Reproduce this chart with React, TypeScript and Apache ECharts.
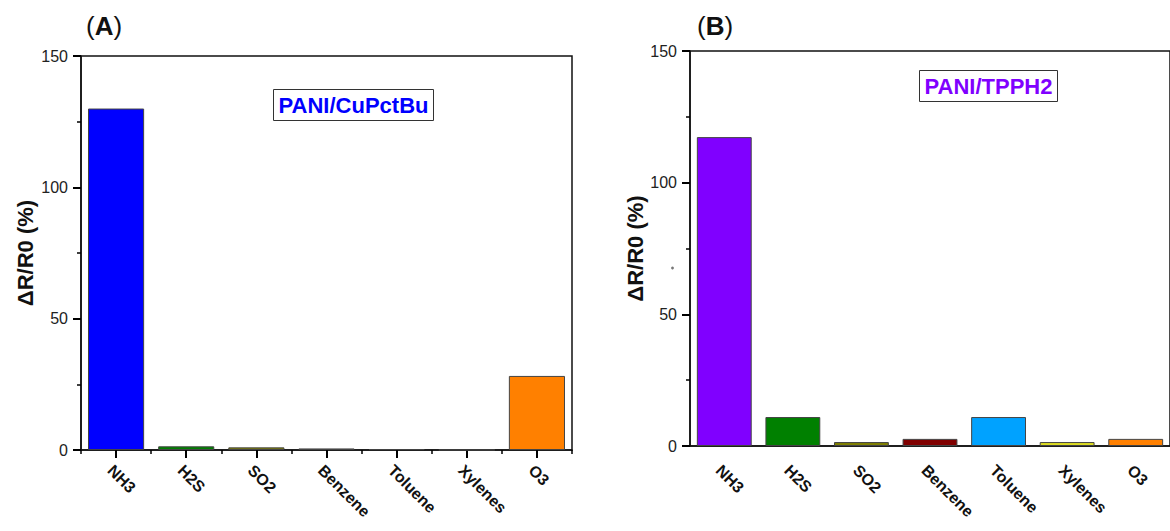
import React, { useEffect, useRef } from "react";
import * as echarts from "echarts";

const categories = ["NH3", "H2S", "SO2", "Benzene", "Toluene", "Xylenes", "O3"];
const valuesA = [130, 1.4, 1.0, 0.6, 0.35, 0.05, 28.2];
const valuesB = [117.3, 11, 1.5, 2.7, 11, 1.5, 2.7];
const colorsA = ["#0000FF", "#008000", "#808000", "#800000", "#111111", "#DDDD22", "#FF8000"];
const colorsB = ["#8000FF", "#008000", "#808000", "#800000", "#00A2FF", "#DDDD22", "#FF8000"];
const yTicks = [0, 50, 100, 150];
const titleA = "A";
const titleB = "B";
const legendA = "PANI/CuPctBu";
const legendB = "PANI/TPPH2";
const yName = "ΔR/R0 (%)";

const FONT = "Liberation Sans, Arial, Helvetica, sans-serif";
const AXIS = "#111";

function yAxisFor(gridIndex: number, nameGap: number) {
  return {
    type: "value",
    gridIndex,
    min: yTicks[0],
    max: yTicks[yTicks.length - 1],
    interval: yTicks[1] - yTicks[0],
    name: yName,
    nameLocation: "middle",
    nameGap,
    nameRotate: 90,
    nameTextStyle: { fontFamily: FONT, fontWeight: "bold", fontSize: 22, color: "#111" },
    axisLine: { show: true, lineStyle: { color: AXIS, width: 1.5 } },
    axisTick: { show: true, length: 8, lineStyle: { color: "#000", width: 2 } },
    minorTick: { show: true, splitNumber: 2, length: 4, lineStyle: { color: "#000", width: 1.5 } },
    splitLine: { show: false },
    axisLabel: { fontFamily: FONT, fontSize: 16, color: "#222", margin: 13 },
  };
}

function barData(values: number[], colors: string[]) {
  return values.map((v, i) => ({ value: v, itemStyle: { color: colors[i] } }));
}

export default function App() {
  const ref = useRef<HTMLDivElement>(null);
  useEffect(() => {
    if (!ref.current) return;
    const chart = echarts.init(ref.current, undefined, { renderer: "svg" });
    const xLabel = (margin: number) => ({
      rotate: -45,
      fontFamily: FONT,
      fontSize: 16,
      fontWeight: "bold",
      color: "#111",
      margin,
      interval: 0,
      verticalAlign: "top",
    });
    const option = {
      animation: false,
      backgroundColor: "#fff",
      grid: [
        { left: 81, top: 56, width: 491, height: 394, show: true, borderColor: AXIS, borderWidth: 1.5, backgroundColor: "transparent" },
        { left: 690, top: 51, width: 491, height: 395, show: true, borderColor: AXIS, borderWidth: 1.5, backgroundColor: "transparent" },
      ],
      xAxis: [
        {
          type: "category",
          gridIndex: 0,
          position: "bottom",
          data: categories,
          axisLine: { show: true, lineStyle: { color: AXIS, width: 1.5 } },
          axisTick: { show: true, alignWithLabel: true, length: 8, lineStyle: { color: "#000", width: 2 } },
          axisLabel: xLabel(12),
        },
        {
          type: "category",
          gridIndex: 0,
          position: "bottom",
          data: categories,
          axisLine: { show: false },
          axisTick: { show: true, alignWithLabel: false, length: 4, lineStyle: { color: "#000", width: 1.5 } },
          axisLabel: { show: false },
        },
        {
          type: "category",
          gridIndex: 1,
          position: "bottom",
          data: categories,
          axisLine: { show: true, lineStyle: { color: AXIS, width: 1.5 } },
          axisTick: { show: false },
          axisLabel: xLabel(16),
        },
      ],
      yAxis: [yAxisFor(0, 45), yAxisFor(1, 43)],
      series: [
        {
          type: "bar",
          xAxisIndex: 0,
          yAxisIndex: 0,
          barWidth: "80%",
          data: barData(valuesA, colorsA),
          itemStyle: { borderColor: "#444", borderWidth: 1 },
        },
        {
          type: "bar",
          xAxisIndex: 2,
          yAxisIndex: 1,
          barWidth: "80%",
          data: barData(valuesB, colorsB),
          itemStyle: { borderColor: "#444", borderWidth: 1 },
        },
      ],
      graphic: [
        {
          type: "text",
          left: 86,
          top: 13,
          style: {
            text: "({b|" + titleA + "})",
            fontFamily: FONT,
            fontSize: 26,
            fill: "#111",
            rich: { b: { fontFamily: FONT, fontSize: 26, fontWeight: "bold", fill: "#111" } },
          },
        },
        {
          type: "text",
          left: 697,
          top: 13,
          style: {
            text: "({b|" + titleB + "})",
            fontFamily: FONT,
            fontSize: 26,
            fill: "#111",
            rich: { b: { fontFamily: FONT, fontSize: 26, fontWeight: "bold", fill: "#111" } },
          },
        },
        {
          type: "group",
          left: 273,
          top: 89,
          children: [
            { type: "rect", shape: { x: 0, y: 0, width: 160, height: 31 }, style: { fill: "#fff", stroke: "#333", lineWidth: 1 } },
            {
              type: "text",
              x: 80,
              y: 16,
              style: { text: legendA, fontFamily: FONT, fontSize: 22, fontWeight: "bold", fill: "#0000FF", align: "center", verticalAlign: "middle" },
            },
          ],
        },
        {
          type: "group",
          left: 919,
          top: 70,
          children: [
            { type: "rect", shape: { x: 0, y: 0, width: 138, height: 31 }, style: { fill: "#fff", stroke: "#333", lineWidth: 1 } },
            {
              type: "text",
              x: 69,
              y: 16,
              style: { text: legendB, fontFamily: FONT, fontSize: 22, fontWeight: "bold", fill: "#8000FF", align: "center", verticalAlign: "middle" },
            },
          ],
        },
        {
          type: "circle",
          shape: { cx: 672.5, cy: 268, r: 1.4 },
          style: { fill: "#777" },
        },
      ],
    };
    chart.setOption(option as any);
    return () => chart.dispose();
  }, []);
  return (
    <div
      ref={ref}
      style={{ position: "absolute", left: 0, top: 0, width: 1170, height: 531, background: "#fff" }}
    />
  );
}
